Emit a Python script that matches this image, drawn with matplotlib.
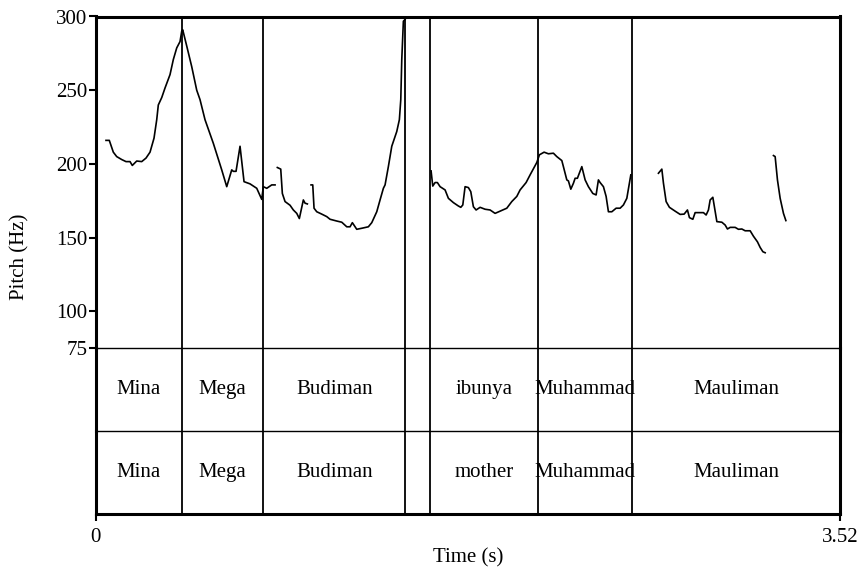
import matplotlib
matplotlib.use("Agg")
import matplotlib.pyplot as plt

plt.rcParams['font.family'] = ['Liberation Serif', 'DejaVu Serif']

# ---- data ----
t_max = 3.52
boundaries = [0.408, 0.793, 1.4645, 1.581, 2.091, 2.5355]
tier1_labels = ["Mina", "Mega", "Budiman", "", "ibunya", "Muhammad", "Mauliman"]
tier2_labels = ["Mina", "Mega", "Budiman", "", "mother", "Muhammad", "Mauliman"]
y_ticks = [75, 100, 150, 200, 250, 300]
x_ticks = [0, 3.52]
x_tick_labels = ["0", "3.52"]

t1 = [0.0487, 0.0643, 0.0833, 0.0993, 0.123, 0.1433, 0.1623, 0.1731, 0.194, 0.2176,
      0.238, 0.2569, 0.2758, 0.2886, 0.2961, 0.3122, 0.3278, 0.3515, 0.3671, 0.3832,
      0.3988, 0.4068, 0.4115, 0.4305, 0.4541, 0.4778, 0.4934, 0.517, 0.5563, 0.596,
      0.6197, 0.6433, 0.6509, 0.6637, 0.6826, 0.7015, 0.7299, 0.7616, 0.7852, 0.7928,
      0.8089, 0.8325, 0.8482]
f1 = [216, 216, 208, 205, 203, 201.6, 201.6, 199, 202, 201.6,
      204, 208, 217.5, 230, 240, 245, 251.5, 260.6, 270.8, 278.7,
      283, 290, 291, 280, 266, 250, 243.6, 230, 214, 196,
      184.6, 196, 195, 195, 212, 188, 186.5, 183.5, 176, 184.6,
      183.5, 185.8, 185.8]

t2 = [0.859, 0.8751, 0.8827, 0.8955, 0.9191, 0.9347, 0.9508, 0.9631, 0.982, 0.9901, 1.001]
f2 = [197.6, 196.5, 180, 174.5, 172, 168.8, 166.5, 163, 175.6, 173.4, 172.9]

t3 = [1.0184, 1.0265, 1.0326, 1.0454, 1.069, 1.0927, 1.1083, 1.14, 1.1637, 1.1873,
      1.2029, 1.2138, 1.2346, 1.2583, 1.2895, 1.3056, 1.3292, 1.3448, 1.3605, 1.3685,
      1.3841, 1.4002, 1.4238, 1.4361, 1.4428, 1.4475, 1.4551, 1.4631]
f3 = [185.8, 185.8, 170, 167.6, 166, 164.3, 162.5, 161.3, 160.5, 157.4,
      157.4, 160.2, 155.7, 156.4, 157.4, 160.2, 167.6, 175.6, 183.5, 185.8,
      198.2, 212, 222, 230, 243.6, 270.8, 296.8, 298]

t4 = [1.5861, 1.5941, 1.605, 1.6159, 1.6287, 1.6523, 1.668, 1.6916, 1.7152, 1.7266,
      1.7361, 1.7469, 1.7625, 1.7739, 1.7862, 1.799, 1.8179, 1.8415, 1.8652, 1.8888,
      1.9125, 1.9442, 1.9678, 1.9915, 2.0071, 2.0355, 2.0544, 2.0861, 2.0984, 2.1206,
      2.141, 2.1646, 2.1807, 2.2044, 2.2119, 2.228, 2.2356, 2.2469, 2.2592, 2.2673,
      2.2781, 2.299, 2.3146, 2.3302, 2.351, 2.3666, 2.3775, 2.3855, 2.4012, 2.4139,
      2.4248, 2.4409, 2.4612, 2.4801, 2.4957, 2.5118, 2.5307]
f4 = [195.3, 185, 187.4, 187.4, 184.6, 182.4, 176.7, 173.8, 171.5, 170.6,
      172.2, 184.6, 184, 181.2, 171, 168.8, 170.6, 169.3, 168.8, 166.5,
      168, 170, 174.5, 178, 182.4, 187.4, 192.6, 201, 206.2, 208,
      206.9, 207.3, 205, 202.3, 198.2, 189.2, 188.5, 182.9, 186.9, 190.3,
      190.3, 198.2, 189.2, 184.6, 180, 179, 189.2, 187.4, 184.6, 178,
      167.6, 167.6, 170, 170, 172.2, 176.7, 192.6]

t5 = [2.6613, 2.6774, 2.685, 2.6977, 2.7133, 2.7403, 2.764, 2.7829, 2.7985, 2.808,
      2.824, 2.8349, 2.8586, 2.8742, 2.8869, 2.8978, 2.9059, 2.9186, 2.9376, 2.9612,
      2.9768, 2.9877, 3.0005, 3.0241, 3.0397, 3.0558, 3.0714, 3.0951, 3.1107, 3.1296,
      3.1424, 3.1552, 3.166]
f5 = [193.7, 196.5, 187, 174.5, 170.6, 168, 165.8, 166, 168.8, 163.6,
      162.5, 167, 167, 167, 165.4, 168.8, 175.6, 177.4, 160.9, 160.5,
      158.6, 155.9, 157, 157, 155.7, 155.9, 154.7, 154.7, 151, 147.2,
      143.4, 140.5, 139.8]

t6 = [3.2053, 3.2133, 3.2242, 3.237, 3.2526, 3.264]
f6 = [205.7, 205, 189.2, 176.7, 166.5, 161.6]

segments = [(t1, f1), (t2, f2), (t3, f3), (t4, f4), (t5, f5), (t6, f6)]

# ---- layout ----
W, H = 862, 571
fig = plt.figure(figsize=(W / 100, H / 100), dpi=100)
x0, x1 = 95.7, 840
y_top, y_p, y_t1, y_bot = 16.5, 348.3, 430.7, 514

def rect(ya, yb):
    return [x0 / W, 1 - yb / H, (x1 - x0) / W, (yb - ya) / H]

ax0 = fig.add_axes(rect(y_top, y_p))
ax1 = fig.add_axes(rect(y_p, y_t1))
ax2 = fig.add_axes(rect(y_t1, y_bot))

thick = 2.2
thin = 1.0
FS = 15

for ax in (ax0, ax1, ax2):
    ax.patch.set_visible(False)
    ax.set_xlim(0, t_max)
    for b in boundaries:
        ax.axvline(b, color='black', lw=1.3, zorder=1)
    for s in ax.spines.values():
        s.set_color('black')
        s.set_zorder(5)
    ax.spines['left'].set_linewidth(thick)
    ax.spines['right'].set_linewidth(thick)
    ax.tick_params(axis='x', bottom=False, labelbottom=False)
    ax.tick_params(axis='y', left=False, labelleft=False)

ax0.set_ylim(75, 300)
for t, f in segments:
    ax0.plot(t, f, color='black', lw=1.2, zorder=2, solid_joinstyle='round')
ax0.spines['top'].set_linewidth(thick)
ax0.spines['bottom'].set_linewidth(thin)
ax0.set_yticks(y_ticks)
ax0.set_yticklabels([str(v) for v in y_ticks])
ax0.tick_params(axis='y', left=True, labelleft=True, length=5, width=1.5,
                pad=1, labelsize=FS, direction='out')

edges = [0] + boundaries + [t_max]
for ax, labels in ((ax1, tier1_labels), (ax2, tier2_labels)):
    ax.set_ylim(0, 1)
    ax.spines['top'].set_visible(False)
    for i, lab in enumerate(labels):
        if lab:
            ax.text((edges[i] + edges[i + 1]) / 2, 0.5, lab, ha='center', va='center',
                    fontsize=FS)
ax1.spines['bottom'].set_linewidth(thin)
ax2.spines['bottom'].set_linewidth(thick)
ax2.set_xticks(x_ticks)
ax2.set_xticklabels(x_tick_labels)
ax2.tick_params(axis='x', bottom=True, labelbottom=True, length=5, width=1.5,
                pad=5, labelsize=FS, direction='out')

fig.text(20 / W, 1 - 257 / H, "Pitch (Hz)", rotation=90, ha='center', va='center',
         fontsize=FS)
fig.text((x0 + x1) / 2 / W, 1 - 558 / H, "Time (s)", ha='center', va='center',
         fontsize=FS)

fig.savefig("out.png", dpi=100, facecolor='white')
